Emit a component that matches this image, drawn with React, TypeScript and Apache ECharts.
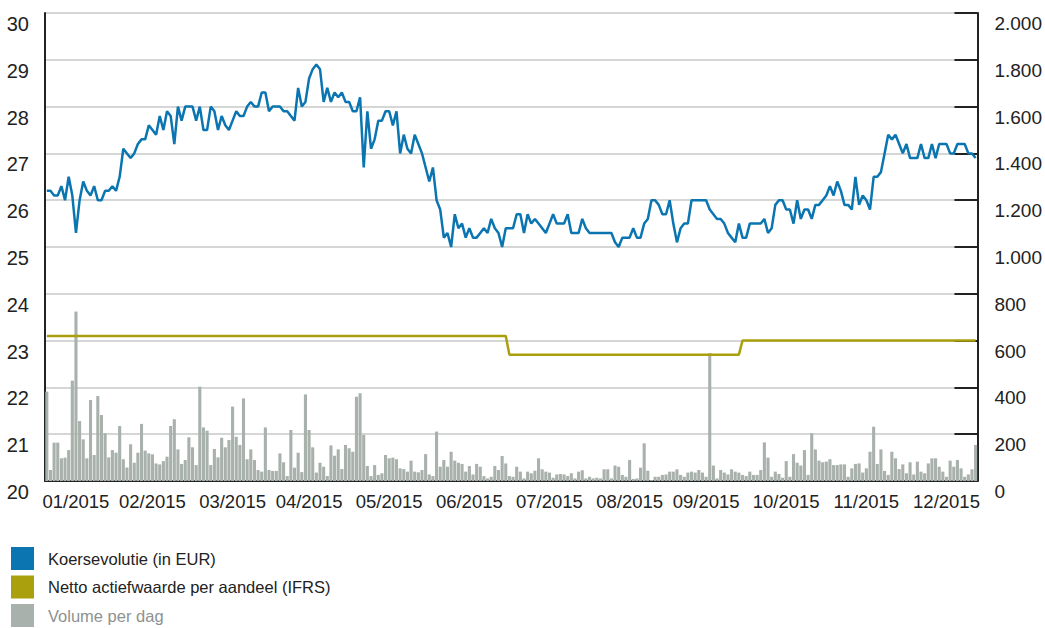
import React, { useEffect, useRef } from "react";
import * as echarts from "echarts";

// Daily closing price (EUR), one per trading day of 2015
const price: number[] = [
  26.2, 26.2, 26.1, 26.1, 26.3, 26.0, 26.5, 26.1, 25.3, 26.0,
  26.4, 26.2, 26.1, 26.3, 26.0, 26.0, 26.2, 26.2, 26.3, 26.2,
  26.5, 27.1, 27.0, 26.9, 27.0, 27.2, 27.3, 27.3, 27.6, 27.5,
  27.4, 27.8, 27.5, 27.9, 27.8, 27.2, 28.0, 27.7, 28.0, 28.0,
  28.0, 27.7, 28.0, 27.5, 27.5, 28.0, 27.9, 27.5, 27.8, 27.6,
  27.5, 27.7, 27.9, 27.8, 27.8, 28.0, 28.1, 28.0, 28.0, 28.3,
  28.3, 27.9, 28.0, 28.0, 28.0,
  27.9, 27.9, 27.8, 27.7, 28.4, 28.0, 28.1, 28.6, 28.8, 28.9,
  28.8, 28.1, 28.4, 28.1, 28.3, 28.2, 28.3, 28.1, 28.1, 27.9,
  27.9, 28.2, 26.7, 27.9, 27.1, 27.3, 27.7, 27.7, 27.9, 27.9,
  27.6, 27.9, 27.0, 27.4, 27.1, 27.0, 27.4, 27.2, 27.0, 26.7,
  26.4, 26.7, 26.0, 25.8, 25.2, 25.3, 25.0, 25.7, 25.4, 25.5,
  25.2, 25.4, 25.2, 25.2, 25.3, 25.4, 25.3, 25.6, 25.4, 25.3,
  25.0, 25.4, 25.4, 25.4,
  25.7, 25.7, 25.3, 25.7, 25.5, 25.6, 25.5, 25.4, 25.3, 25.5,
  25.7, 25.5, 25.5, 25.5, 25.7, 25.3, 25.3, 25.3, 25.6, 25.4,
  25.3, 25.3, 25.3, 25.3, 25.3, 25.3, 25.3,
  25.1, 25.0, 25.2, 25.2, 25.2, 25.4, 25.2, 25.2, 25.5, 25.6,
  26.0, 26.0, 25.9, 25.7, 25.7, 26.0, 25.5, 25.1, 25.4, 25.5,
  25.5, 26.0, 26.0, 26.0, 26.0, 26.0, 25.8, 25.7, 25.6, 25.6,
  25.5, 25.3, 25.2, 25.1, 25.5, 25.2, 25.2,
  25.5, 25.5, 25.5, 25.5, 25.6, 25.3, 25.4, 25.9, 26.0, 26.0,
  25.8, 25.8, 25.5, 26.0, 25.6, 25.8, 25.8, 25.6, 25.9, 25.9,
  26.0, 26.1, 26.3, 26.1, 26.4, 26.2, 25.9, 25.9, 25.8, 26.5,
  25.9, 26.1, 26.0, 25.8, 26.5, 26.5, 26.6, 27.0, 27.4, 27.3,
  27.4, 27.2, 27.0, 27.2, 26.9, 26.9, 26.9, 27.2, 26.9, 26.9,
  27.2, 26.9, 27.2, 27.2, 27.2, 27.0, 27.0, 27.2, 27.2, 27.2,
  27.0, 27.0, 26.9,
];

// Daily traded volume
const volume: number[] = [
  382, 47, 164, 164, 97, 100, 132, 429, 724, 256,
  178, 97, 346, 111, 363, 282, 204, 101, 132, 121,
  235, 93, 58, 157, 78, 121, 244, 130, 118, 114,
  75, 71, 85, 104, 235, 264, 135, 73, 90, 187,
  144, 68, 403, 229, 215, 68, 137, 101, 185, 144,
  175, 318, 189, 154, 353, 93, 135, 90, 47, 40,
  229, 47, 43, 43, 118, 80, 21, 218, 57, 121,
  38, 370, 218, 144, 36, 78, 61, 21, 152, 108,
  135, 51, 154, 140, 125,
  360, 375, 197, 64, 21, 68, 26, 33, 111, 97,
  100, 93, 54, 51, 40, 87, 40, 37, 47, 115,
  28, 21, 211, 61, 90, 61, 125, 87, 78, 73,
  40, 64, 28, 73, 61, 21, 11, 18, 64, 47,
  107, 75, 21, 18, 61, 40, 11, 40, 33, 44,
  97, 50, 40, 36, 14, 28, 30, 28, 21, 33,
  11, 40, 46, 11, 18, 11, 14, 11, 50, 50,
  11, 66, 61, 26, 18, 90, 9, 11, 57, 161,
  44, 4, 18, 18, 26, 28, 40, 40, 50, 26,
  18, 36, 40,
  36, 47, 36, 18, 547,
  66, 11, 47, 36, 28, 50, 40, 36, 26, 21,
  40, 26, 26, 47, 165, 100, 18, 40, 30, 14,
  85, 18, 115, 78, 66, 132, 26, 204, 135, 87,
  80, 83, 93, 68, 68, 71, 71, 18, 54, 73,
  75, 36, 54, 125, 232, 73, 135, 43, 26, 125,
  97, 51, 71, 33, 80, 28, 83, 40, 33, 75,
  97, 97, 61, 40, 18, 87, 61, 90, 54, 18,
  28, 50, 154,
];

// Net asset value per share (IFRS): level and first trading-day index it applies from
const navLevels: number[] = [23.1, 22.7, 23.0];
const navFrom: number[] = [0, 127, 191];

// Euronext Brussels closing days in 2015
const holidays: string[] = ["2015-01-01", "2015-04-03", "2015-04-06", "2015-05-01", "2015-12-25"];

// Trading-day indices that carry a month label
const monthLabelIdx: number[] = [8, 29, 51, 72, 94, 116, 138, 160, 181, 203, 225, 247];

const seriesNames = ["Koersevolutie (in EUR)", "Netto actiefwaarde per aandeel (IFRS)", "Volume per dag"];

const FONT = "'Liberation Sans', Arial, sans-serif";

function tradingDays(): string[] {
  const out: string[] = [];
  const d = new Date(Date.UTC(2015, 0, 1));
  while (d.getUTCFullYear() === 2015) {
    const wd = d.getUTCDay();
    const s = d.toISOString().slice(0, 10);
    if (wd !== 0 && wd !== 6 && !holidays.includes(s)) out.push(s);
    d.setUTCDate(d.getUTCDate() + 1);
  }
  return out;
}

function navSeries(n: number): number[] {
  const out: number[] = [];
  for (let i = 0; i < n; i++) {
    let lvl = navLevels[0];
    for (let k = 0; k < navFrom.length; k++) if (i >= navFrom[k]) lvl = navLevels[k];
    out.push(lvl);
  }
  return out;
}

function fmtThousands(v: number): string {
  if (v >= 1000) return Math.floor(v / 1000) + "." + String(v % 1000).padStart(3, "0");
  return String(v);
}

export default function App() {
  const ref = useRef<HTMLDivElement>(null);
  useEffect(() => {
    document.body.style.margin = "0";
    if (!ref.current) return;
    const chart = echarts.init(ref.current, undefined, { renderer: "svg" });
    const days = tradingDays();
    const labelSet = new Set(monthLabelIdx);
    const option: any = {
      animation: false,
      backgroundColor: "#ffffff",
      grid: { left: 45, right: 64, top: 13, bottom: 147, containLabel: false },
      legend: {
        orient: "vertical",
        left: 11,
        top: 547,
        padding: 0,
        itemWidth: 23,
        itemHeight: 23,
        itemGap: 5.5,
        icon: "rect",
        textStyle: { fontFamily: FONT, fontSize: 16.5, color: "#222222", padding: [0, 0, 0, 9] },
        data: [
          { name: seriesNames[0] },
          { name: seriesNames[1] },
          { name: seriesNames[2], textStyle: { color: "#8d928f" } },
        ],
      },
      xAxis: {
        type: "category",
        data: days,
        boundaryGap: true,
        axisLine: { show: true, lineStyle: { color: "#222222", width: 2 } },
        axisTick: { show: false },
        splitLine: { show: false },
        axisLabel: {
          interval: (index: number) => labelSet.has(index),
          formatter: (v: string) => v.slice(5, 7) + "/" + v.slice(0, 4),
          fontFamily: FONT,
          fontSize: 18.5,
          color: "#222222",
          margin: 11,
          hideOverlap: false,
        },
      },
      yAxis: [
        {
          type: "value",
          position: "left",
          min: 20,
          max: 30,
          interval: 1,
          axisLine: { show: true, lineStyle: { color: "#222222", width: 2 } },
          axisTick: { show: false },
          splitLine: { show: true, lineStyle: { color: "#c6cac8", width: 1.5 } },
          axisLabel: {
            fontFamily: FONT,
            fontSize: 20,
            color: "#222222",
            margin: 16,
            verticalAlign: "top",
            padding: [1, 0, 0, 0],
          },
        },
        {
          type: "value",
          position: "right",
          min: 0,
          max: 2000,
          interval: 200,
          axisLine: { show: true, lineStyle: { color: "#222222", width: 2 } },
          axisTick: { show: true, inside: true, length: 23, lineStyle: { color: "#222222", width: 2 } },
          splitLine: { show: false },
          axisLabel: {
            fontFamily: FONT,
            fontSize: 19,
            color: "#222222",
            margin: 17,
            verticalAlign: "top",
            padding: [1, 0, 0, 0],
            formatter: (v: number) => fmtThousands(v),
          },
        },
      ],
      series: [
        {
          name: seriesNames[2],
          type: "bar",
          yAxisIndex: 1,
          data: volume,
          barCategoryGap: "15%",
          itemStyle: { color: "#a9b1ac" },
          z: 1,
        },
        {
          name: seriesNames[1],
          type: "line",
          yAxisIndex: 0,
          data: navSeries(days.length),
          symbol: "none",
          lineStyle: { color: "#aaa00d", width: 2.5 },
          itemStyle: { color: "#aaa00d" },
          z: 2,
        },
        {
          name: seriesNames[0],
          type: "line",
          yAxisIndex: 0,
          data: price,
          symbol: "none",
          lineStyle: { color: "#0a75b0", width: 2.5 },
          itemStyle: { color: "#0a75b0" },
          z: 3,
        },
      ],
    };
    chart.setOption(option);
    return () => chart.dispose();
  }, []);
  return <div ref={ref} style={{ width: 1045, height: 628 }} />;
}
